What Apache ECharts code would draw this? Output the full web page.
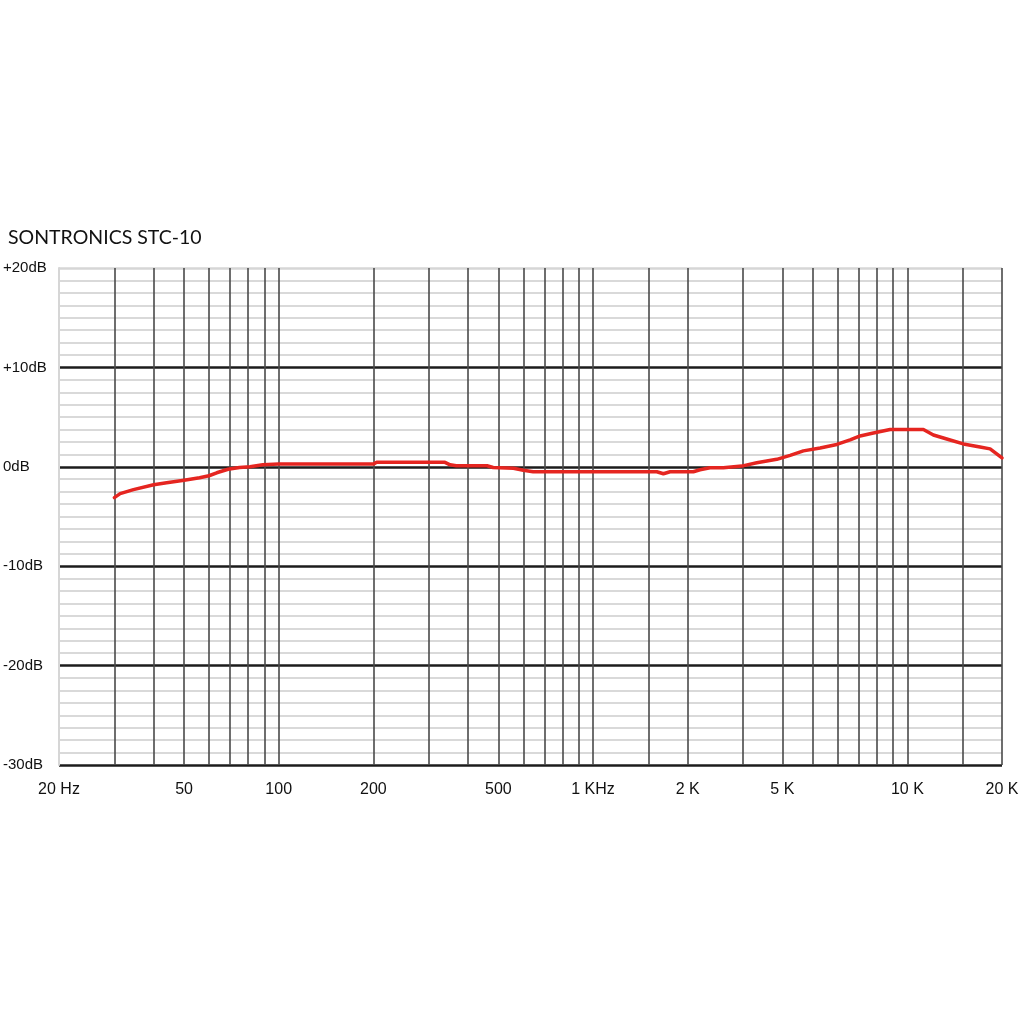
<!DOCTYPE html>
<html>
<head>
<meta charset="utf-8">
<script src="https://cdn.jsdelivr.net/npm/echarts@6/dist/echarts.min.js"></script>
<style>
html,body{margin:0;padding:0;background:#fff;}
#chart{width:1023px;height:1024px;}
</style>
</head>
<body>
<div id="chart"></div>
<script>
// Frequency response (Hz, dB)
const freqs = [30, 31.3, 34.5, 40, 44, 50, 56, 60, 63.5, 69, 75, 81, 89, 100, 150, 200, 205, 260, 338, 351, 367, 460, 481, 558, 600, 645, 800, 1000, 1300, 1595, 1674, 1758, 2085, 2190, 2356, 2598, 2972, 3318, 3842, 4237, 4669, 5278, 5964, 6574, 7072, 7797, 8810, 10000, 11246, 12100, 13675, 15070, 17030, 18330, 20000];
const dbValues = [-3.1, -2.7, -2.3, -1.8, -1.6, -1.35, -1.1, -0.9, -0.6, -0.25, -0.07, 0.0, 0.2, 0.27, 0.27, 0.27, 0.45, 0.45, 0.45, 0.2, 0.1, 0.1, -0.07, -0.15, -0.35, -0.5, -0.5, -0.5, -0.5, -0.5, -0.7, -0.5, -0.5, -0.3, -0.1, -0.1, 0.07, 0.4, 0.75, 1.15, 1.6, 1.9, 2.25, 2.7, 3.1, 3.4, 3.75, 3.75, 3.75, 3.2, 2.7, 2.3, 2.0, 1.8, 0.9];

// Vertical grid lines (Hz)
const gridFreqs = [30, 40, 50, 60, 70, 80, 90, 100, 200, 300, 400, 500, 600, 700, 800, 900, 1000, 1500, 2000, 3000, 4000, 5000, 6000, 7000, 8000, 9000, 10000, 15000, 20000];

// X tick labels and where they sit (Hz)
const labelFreqs = [20, 50, 100, 200, 500, 1000, 2000, 4000, 10000, 20000];
const labelTexts = ['20 Hz', '50', '100', '200', '500', '1 KHz', '2 K', '5 K', '10 K', '20 K'];

// Y axis
const yMin = -30, yMax = 20, yStep = 10;
const yLabels = {'20': '+20dB', '10': '+10dB', '0': '0dB', '-10': '-10dB', '-20': '-20dB', '-30': '-30dB'};

const lg = v => Math.log10(v);
const seriesData = freqs.map((f, i) => [lg(f), dbValues[i]]);

const chart = echarts.init(document.getElementById('chart'), null, {renderer: 'canvas'});
chart.setOption({
  backgroundColor: '#ffffff',
  animation: false,
  title: {
    text: 'SONTRONICS STC-10',
    left: 3,
    top: 223,
    textStyle: {fontFamily: 'Lato', fontSize: 19.5, fontWeight: 'normal', color: '#111'}
  },
  grid: {left: 59, right: 21, top: 268, bottom: 259},
  xAxis: {
    type: 'value',
    min: lg(20),
    max: lg(20000),
    z: 1,
    axisLine: {show: false},
    axisTick: {show: false, customValues: gridFreqs.map(lg)},
    splitLine: {show: true, lineStyle: {color: '#4a4a4a', width: 1.6}},
    axisLabel: {
      customValues: labelFreqs.map(lg),
      margin: 17,
      fontFamily: 'Liberation Sans',
      fontSize: 16,
      color: '#111',
      formatter: function (v) {
        for (let i = 0; i < labelFreqs.length; i++) {
          if (Math.abs(lg(labelFreqs[i]) - v) < 1e-6) return labelTexts[i];
        }
        return '';
      }
    }
  },
  yAxis: {
    type: 'value',
    min: yMin,
    max: yMax,
    interval: yStep,
    axisLine: {show: true, lineStyle: {color: '#d6d6d6', width: 2}},
    axisTick: {show: false},
    minorTick: {show: false, splitNumber: 8},
    minorSplitLine: {show: true, lineStyle: {color: '#d9d9d9', width: 2}},
    splitLine: {show: true, lineStyle: {color: ['#1c1c1c', '#1c1c1c', '#1c1c1c', '#1c1c1c', '#1c1c1c', '#d6d6d6'], width: 2.5}},
    axisLabel: {
      align: 'left',
      margin: 56,
      padding: [4, 0, 0, 0],
      fontFamily: 'Liberation Sans',
      fontSize: 15,
      color: '#111',
      formatter: function (v) { return yLabels[String(v)] || ''; }
    }
  },
  series: [{
    type: 'line',
    data: seriesData,
    showSymbol: false,
    smooth: false,
    z: 5,
    lineStyle: {color: '#e52520', width: 3.5, join: 'round', cap: 'round'}
  }]
});
</script>
</body>
</html>
